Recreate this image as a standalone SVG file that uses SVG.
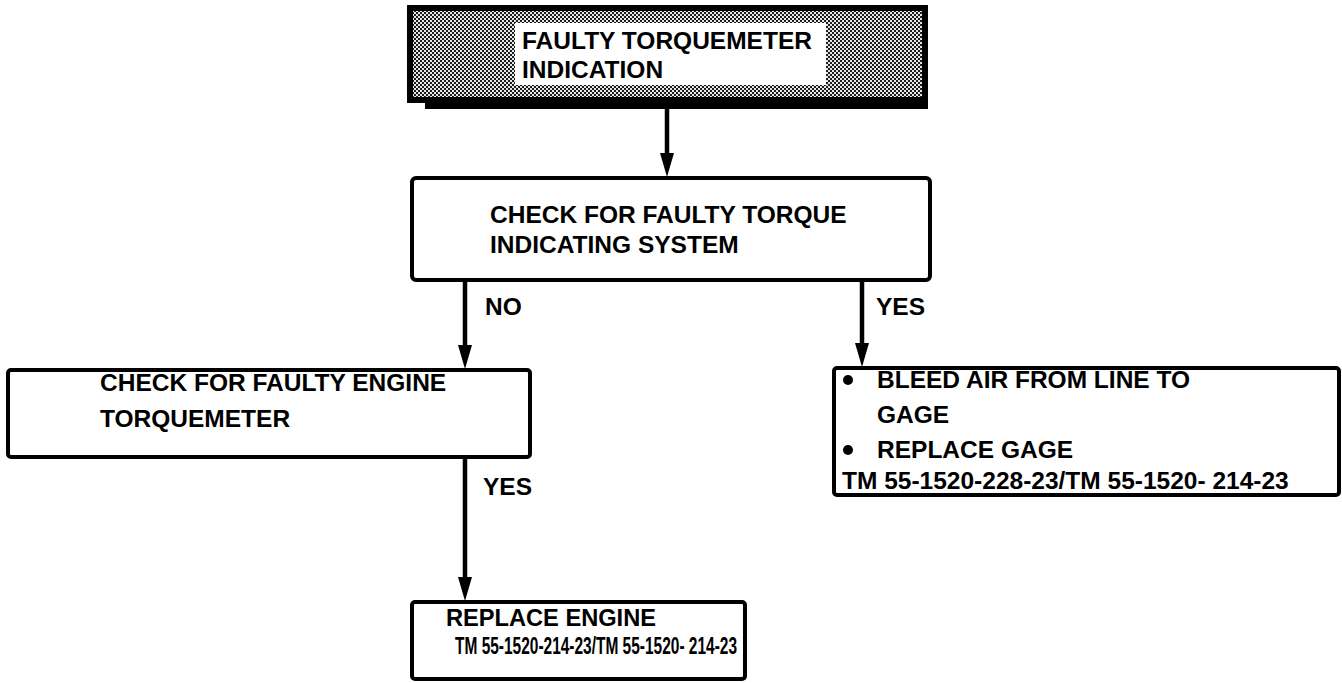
<svg xmlns="http://www.w3.org/2000/svg" width="1342" height="683" viewBox="0 0 1342 683">
  <defs>
    <pattern id="halftone" width="4" height="4" patternUnits="userSpaceOnUse">
      <rect width="4" height="4" fill="#e6e6e6"/>
      <rect width="2" height="2" fill="#1e1e1e"/>
      <rect x="2" y="2" width="2" height="2" fill="#1e1e1e"/>
    </pattern>
    <marker id="head" viewBox="0 0 24 14" refX="2" refY="7" markerWidth="24" markerHeight="14" markerUnits="userSpaceOnUse" orient="auto">
      <path d="M0,0 L24,7 L0,14 z" fill="#000"/>
    </marker>
    <style>
      .box { fill: #fff; stroke: #000; stroke-width: 4; }
      .lbl { font-family: "Liberation Sans", Arial, sans-serif; font-weight: bold; font-size: 24.5px; fill: #000; }
      .wire { stroke: #000; stroke-width: 4.5; fill: none; marker-end: url(#head); }
    </style>
  </defs>
  <rect width="1342" height="683" fill="#fff"/>

  <!-- start node: shaded frame with white caption panel -->
  <g id="start">
    <rect x="410" y="8" width="515" height="92" fill="url(#halftone)" stroke="#000" stroke-width="6"/>
    <rect x="425" y="100" width="503" height="9" fill="#000"/>
    <rect x="515" y="23" width="311" height="62" fill="#fff"/>
    <text class="lbl" x="522" y="49">FAULTY TORQUEMETER</text>
    <text class="lbl" x="522" y="78">INDICATION</text>
  </g>

  <g id="check-system">
    <rect class="box" x="412" y="178" width="518" height="102" rx="4"/>
    <text class="lbl" x="490" y="223">CHECK FOR FAULTY TORQUE</text>
    <text class="lbl" x="490" y="253">INDICATING SYSTEM</text>
  </g>

  <g id="check-engine">
    <rect class="box" x="8" y="370" width="522" height="87" rx="3"/>
    <text class="lbl" x="100" y="391">CHECK FOR FAULTY ENGINE</text>
    <text class="lbl" x="100" y="427">TORQUEMETER</text>
  </g>

  <g id="gage-actions">
    <rect class="box" x="834" y="368" width="505" height="127" rx="3"/>
    <circle cx="848" cy="380" r="5"/>
    <text class="lbl" x="877" y="388">BLEED AIR FROM LINE TO</text>
    <text class="lbl" x="877" y="423">GAGE</text>
    <circle cx="848" cy="450" r="5"/>
    <text class="lbl" x="877" y="458">REPLACE GAGE</text>
    <text class="lbl" x="842" y="489">TM 55-1520-228-23/TM 55-1520- 214-23</text>
  </g>

  <g id="replace-engine">
    <rect class="box" x="412" y="602" width="333" height="77" rx="3"/>
    <text class="lbl" x="446" y="626" style="font-size:23px" textLength="210" lengthAdjust="spacingAndGlyphs">REPLACE ENGINE</text>
    <text class="lbl" x="455" y="654" style="font-size:23px" textLength="282" lengthAdjust="spacingAndGlyphs">TM 55-1520-214-23/TM 55-1520- 214-23</text>
  </g>

  <g id="connectors">
    <line class="wire" x1="667" y1="109" x2="667" y2="155"/>
    <line class="wire" x1="465" y1="280" x2="465" y2="347"/>
    <line class="wire" x1="862" y1="280" x2="862" y2="345"/>
    <line class="wire" x1="465" y1="457" x2="465" y2="579"/>
    <text class="lbl" x="485" y="315">NO</text>
    <text class="lbl" x="876" y="315">YES</text>
    <text class="lbl" x="483" y="495">YES</text>
  </g>
</svg>
